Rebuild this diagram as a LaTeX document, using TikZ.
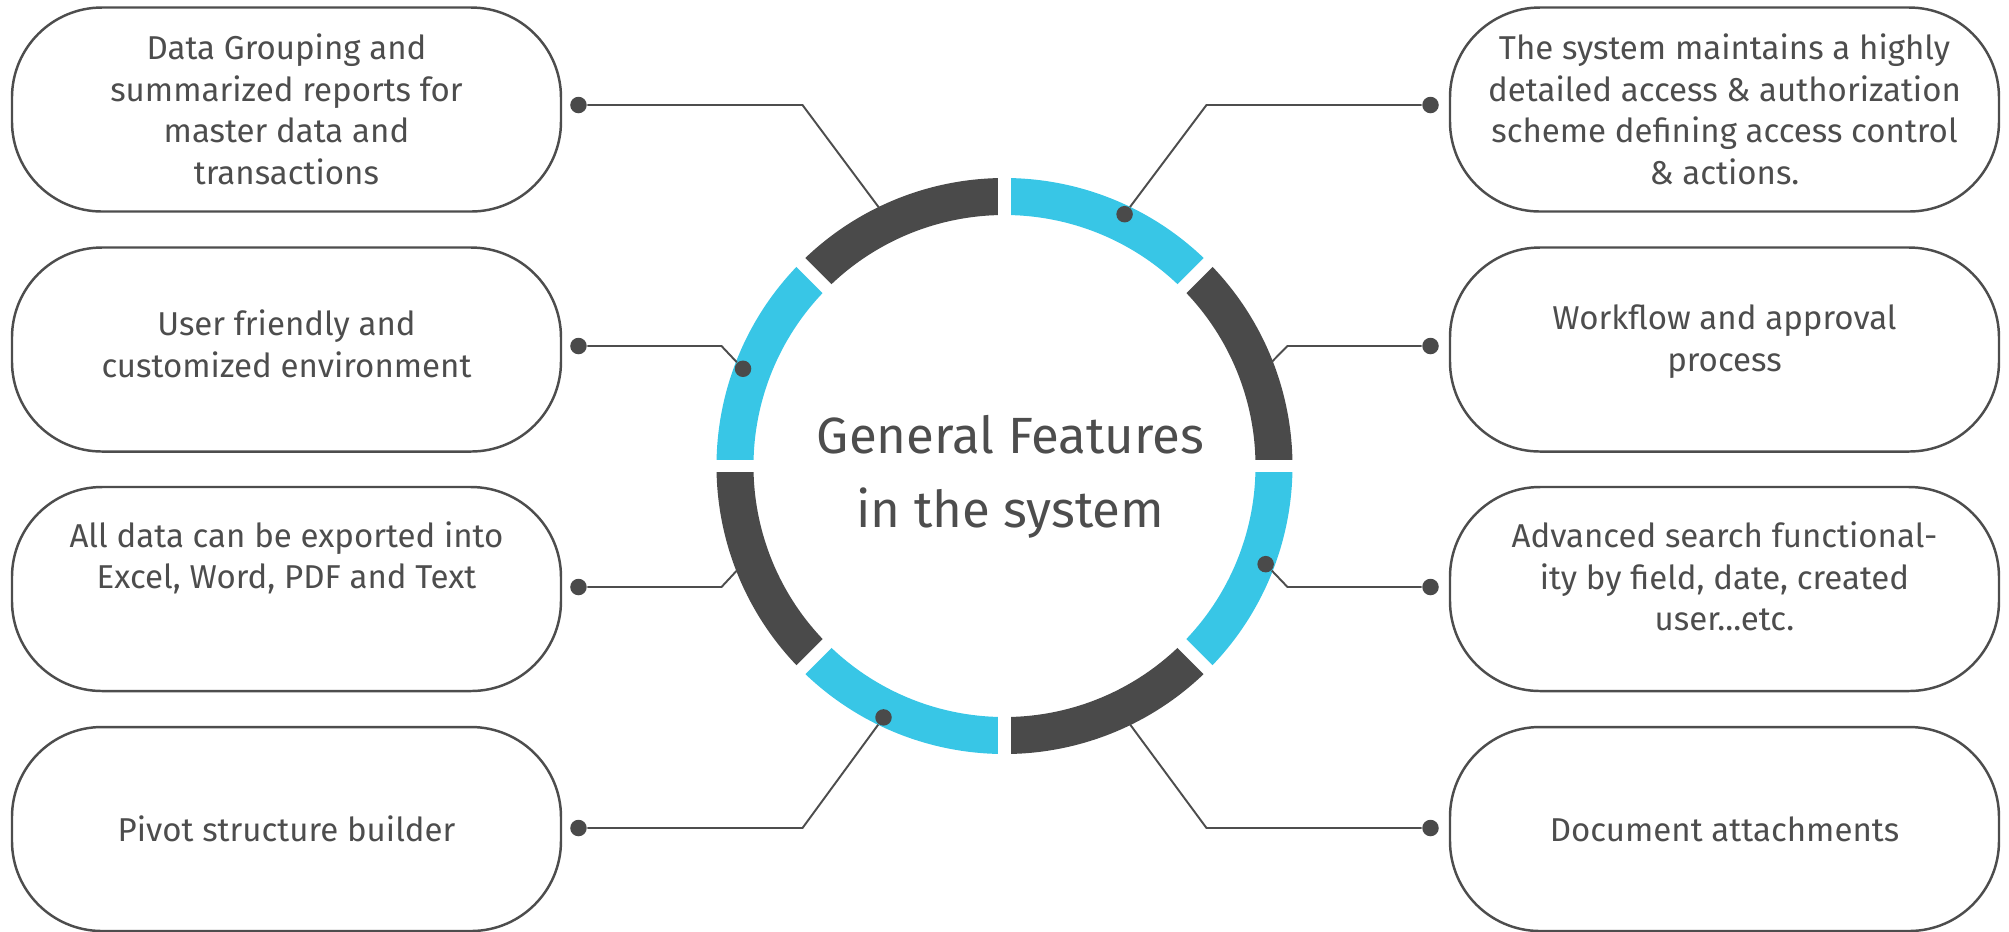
\documentclass[tikz,border=0pt]{standalone}
\usepackage{fontspec}
\setmainfont{Fira Sans}

\definecolor{ringDark}{HTML}{4A4A4A}
\definecolor{ringCyan}{HTML}{38C6E6}
\definecolor{inkGray}{HTML}{4D4D4D}

\begin{document}
\begin{tikzpicture}[
    featbox/.style={draw=inkGray, line width=0.7pt, rounded corners=0.9cm, minimum width=5.49cm, minimum height=2.04cm},
    feattext/.style={text=inkGray, align=center, font=\fontsize{9.4}{11.8}\selectfont},
    featdot/.style={circle, fill=ringDark, inner sep=0pt, minimum size=0.165cm},
    link/.style={draw=inkGray, line width=0.55pt}
]

    % Radii of the ring and of the dots sitting on it.
    \pgfmathsetmacro{\rOut}{2.88}
    \pgfmathsetmacro{\rIn}{2.51}
    \pgfmathsetmacro{\rDot}{2.79}

    \useasboundingbox (-10.045,-4.65) rectangle (10.045,4.66);

    %% ------
    %% The ring: eight pieces of 45 degrees,
    %% cut apart afterwards with white strokes
    %% ----
    \fill[ringCyan] (45:\rOut) arc (45:90:\rOut) -- (90:\rIn) arc (90:45:\rIn) -- cycle;
    \fill[ringDark] (0:\rOut) arc (0:45:\rOut) -- (45:\rIn) arc (45:0:\rIn) -- cycle;
    \fill[ringCyan] (-45:\rOut) arc (-45:0:\rOut) -- (0:\rIn) arc (0:-45:\rIn) -- cycle;
    \fill[ringDark] (-90:\rOut) arc (-90:-45:\rOut) -- (-45:\rIn) arc (-45:-90:\rIn) -- cycle;
    \fill[ringCyan] (-135:\rOut) arc (-135:-90:\rOut) -- (-90:\rIn) arc (-90:-135:\rIn) -- cycle;
    \fill[ringDark] (180:\rOut) arc (180:225:\rOut) -- (225:\rIn) arc (225:180:\rIn) -- cycle;
    \fill[ringCyan] (135:\rOut) arc (135:180:\rOut) -- (180:\rIn) arc (180:135:\rIn) -- cycle;
    \fill[ringDark] (90:\rOut) arc (90:135:\rOut) -- (135:\rIn) arc (135:90:\rIn) -- cycle;
    \draw[white, line width=0.124cm] (180:3) -- (0:3);
    \draw[white, line width=0.124cm] (-90:3) -- (90:3);
    \draw[white, line width=0.124cm] (-135:3) -- (45:3);
    \draw[white, line width=0.124cm] (135:3) -- (-45:3);

    % title
    \node[text=inkGray, align=center, font=\fontsize{14.5}{21.2}\selectfont] (title) at (0.06,-0.11) {General Features\\in the system};

    % L1
    \node[featbox] (bL1) at (-7.18, 3.565) {};
    \node[feattext] (tL1) at (bL1) {Data Grouping and\\summarized reports for\\master data and\\transactions};
    \node[featdot] (dL1) at (-4.26, 3.61) {};
    \coordinate (cL1) at (-2.02, 3.61);
    \coordinate (rL1) at (115.9:2.87);
    \draw[link] (dL1) -- (cL1) -- (rL1);

    % L2
    \node[featbox] (bL2) at (-7.18, 1.165) {};
    \node[feattext, yshift=0.055cm] (tL2) at (bL2) {User friendly and\\customized environment};
    \node[featdot] (dL2) at (-4.26, 1.20) {};
    \coordinate (cL2) at (-2.83, 1.20);
    \node[featdot] (rL2) at (159.6:\rDot) {};
    \draw[link] (dL2) -- (cL2) -- (rL2);

    % L3
    \node[featbox] (bL3) at (-7.18, -1.23) {};
    \node[feattext, yshift=0.31cm] (tL3) at (bL3) {All data can be exported into\\Excel, Word, PDF and Text};
    \node[featdot] (dL3) at (-4.26, -1.21) {};
    \coordinate (cL3) at (-2.83, -1.21);
    \coordinate (rL3) at (201.3:2.87);
    \draw[link] (dL3) -- (cL3) -- (rL3);

    % L4
    \node[featbox] (bL4) at (-7.18, -3.63) {};
    \node[feattext] (tL4) at (bL4) {Pivot structure builder};
    \node[featdot] (dL4) at (-4.26, -3.62) {};
    \coordinate (cL4) at (-2.02, -3.62);
    \node[featdot] (rL4) at (-115.7:\rDot) {};
    \draw[link] (dL4) -- (cL4) -- (rL4);

    % R1
    \node[featbox] (bR1) at (7.20, 3.565) {};
    \node[feattext] (tR1) at (bR1) {The system maintains a highly\\detailed access \& authorization\\scheme defining access control\\\& actions.};
    \node[featdot] (dR1) at (4.26, 3.61) {};
    \coordinate (cR1) at (2.02, 3.61);
    \node[featdot] (rR1) at (64.5:\rDot) {};
    \draw[link] (dR1) -- (cR1) -- (rR1);

    % R2
    \node[featbox] (bR2) at (7.20, 1.165) {};
    \node[feattext, yshift=0.08cm] (tR2) at (bR2) {Workflow and approval\\process};
    \node[featdot] (dR2) at (4.26, 1.20) {};
    \coordinate (cR2) at (2.83, 1.20);
    \coordinate (rR2) at (21.3:2.87);
    \draw[link] (dR2) -- (cR2) -- (rR2);

    % R3
    \node[featbox] (bR3) at (7.20, -1.23) {};
    \node[feattext, yshift=0.125cm] (tR3) at (bR3) {Advanced search functional-\\ity by field, date, created\\user...etc.};
    \node[featdot] (dR3) at (4.26, -1.21) {};
    \coordinate (cR3) at (2.83, -1.21);
    \node[featdot] (rR3) at (-20.6:\rDot) {};
    \draw[link] (dR3) -- (cR3) -- (rR3);

    % R4
    \node[featbox] (bR4) at (7.20, -3.63) {};
    \node[feattext] (tR4) at (bR4) {Document attachments};
    \node[featdot] (dR4) at (4.26, -3.62) {};
    \coordinate (cR4) at (2.02, -3.62);
    \coordinate (rR4) at (-64.1:2.87);
    \draw[link] (dR4) -- (cR4) -- (rR4);

\end{tikzpicture}
\end{document}
